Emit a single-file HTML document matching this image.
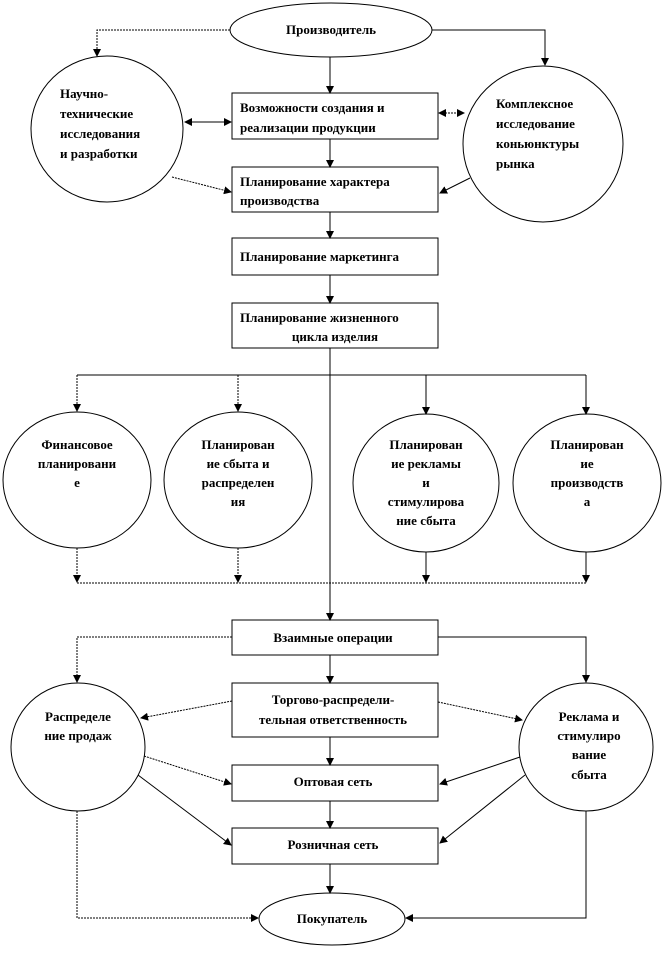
<!DOCTYPE html>
<html><head><meta charset="utf-8"><style>
html,body{margin:0;padding:0;background:#fff;}
svg text{font-family:"Liberation Serif",serif;font-weight:bold;font-size:13px;fill:#000;}
</style></head><body>
<svg width="663" height="949" viewBox="0 0 663 949" xmlns="http://www.w3.org/2000/svg">
<defs>
<marker id="a" markerWidth="8" markerHeight="8" refX="7" refY="4" orient="auto" markerUnits="userSpaceOnUse"><path d="M0,0 L8,4 L0,8 z" fill="#000"/></marker>
<marker id="b" markerWidth="8" markerHeight="8" refX="1" refY="4" orient="auto" markerUnits="userSpaceOnUse"><path d="M8,0 L0,4 L8,8 z" fill="#000"/></marker>
</defs>
<g stroke="#000" stroke-width="1" fill="none">
<!-- top -->
<ellipse cx="331" cy="30" rx="101" ry="27" fill="#fff"/>
<polyline points="230,30 97,30 97,56" stroke-dasharray="2,1" marker-end="url(#a)"/>
<polyline points="432,30 545,30 545,65" marker-end="url(#a)"/>
<ellipse cx="107" cy="129" rx="76" ry="73"/>
<ellipse cx="543" cy="144" rx="80" ry="78"/>
<line x1="330" y1="57" x2="330" y2="93" marker-end="url(#a)"/>
<rect x="232" y="93" width="206" height="46"/>
<line x1="185" y1="122" x2="231" y2="122" marker-start="url(#b)" marker-end="url(#a)"/>
<line x1="439" y1="113" x2="464" y2="113" stroke-dasharray="2,1" marker-start="url(#b)" marker-end="url(#a)"/>
<line x1="330" y1="139" x2="330" y2="167" marker-end="url(#a)"/>
<rect x="232" y="167" width="206" height="45"/>
<line x1="172" y1="177" x2="231" y2="192" stroke-dasharray="2,1" marker-end="url(#a)"/>
<line x1="470" y1="178" x2="440" y2="193" marker-end="url(#a)"/>
<line x1="330" y1="212" x2="330" y2="238" marker-end="url(#a)"/>
<rect x="232" y="238" width="206" height="37"/>
<line x1="330" y1="275" x2="330" y2="303" marker-end="url(#a)"/>
<rect x="232" y="303" width="206" height="45"/>
<!-- middle -->
<line x1="330" y1="348" x2="330" y2="620" marker-end="url(#a)"/>
<line x1="77" y1="375" x2="586" y2="375"/>
<line x1="77" y1="375" x2="77" y2="411" stroke-dasharray="2,1" marker-end="url(#a)"/>
<line x1="238" y1="375" x2="238" y2="411" stroke-dasharray="2,1" marker-end="url(#a)"/>
<line x1="426" y1="375" x2="426" y2="414" marker-end="url(#a)"/>
<line x1="586" y1="375" x2="586" y2="414" marker-end="url(#a)"/>
<ellipse cx="77" cy="480" rx="74" ry="68"/>
<ellipse cx="238" cy="480" rx="74" ry="68"/>
<ellipse cx="426" cy="483" rx="73" ry="69"/>
<ellipse cx="587" cy="483" rx="74" ry="69"/>
<line x1="77" y1="548" x2="77" y2="582" stroke-dasharray="2,1" marker-end="url(#a)"/>
<line x1="238" y1="548" x2="238" y2="582" stroke-dasharray="2,1" marker-end="url(#a)"/>
<line x1="426" y1="552" x2="426" y2="582" marker-end="url(#a)"/>
<line x1="586" y1="552" x2="586" y2="582" marker-end="url(#a)"/>
<line x1="77" y1="583" x2="586" y2="583" stroke-dasharray="2,1"/>
<rect x="232" y="620" width="206" height="35"/>
<polyline points="232,637 77,637 77,682" stroke-dasharray="2,1" marker-end="url(#a)"/>
<polyline points="438,637 586,637 586,682" marker-end="url(#a)"/>
<!-- bottom -->
<line x1="330" y1="655" x2="330" y2="683" marker-end="url(#a)"/>
<rect x="232" y="683" width="206" height="54"/>
<ellipse cx="78" cy="747" rx="67" ry="64"/>
<ellipse cx="586" cy="747" rx="67" ry="64"/>
<line x1="232" y1="701" x2="141" y2="718" stroke-dasharray="2,1" marker-end="url(#a)"/>
<line x1="438" y1="702" x2="522" y2="720" stroke-dasharray="2,1" marker-end="url(#a)"/>
<line x1="330" y1="737" x2="330" y2="765" marker-end="url(#a)"/>
<rect x="232" y="765" width="206" height="36"/>
<line x1="144" y1="756" x2="231" y2="784" stroke-dasharray="2,1" marker-end="url(#a)"/>
<line x1="520" y1="757" x2="440" y2="784" marker-end="url(#a)"/>
<line x1="330" y1="801" x2="330" y2="828" marker-end="url(#a)"/>
<rect x="232" y="828" width="206" height="36"/>
<line x1="138" y1="775" x2="231" y2="845" marker-end="url(#a)"/>
<line x1="525" y1="775" x2="440" y2="843" marker-end="url(#a)"/>
<line x1="330" y1="864" x2="330" y2="893" marker-end="url(#a)"/>
<ellipse cx="332" cy="919" rx="73" ry="26"/>
<polyline points="77,811 77,918 258,918" stroke-dasharray="2,1" marker-end="url(#a)"/>
<polyline points="586,811 586,918 406,918" marker-end="url(#a)"/>
</g>
<text x="331" y="34" text-anchor="middle">Производитель</text>
<text x="60" y="98">Научно-</text>
<text x="60" y="118">технические</text>
<text x="60" y="138">исследования</text>
<text x="60" y="158">и разработки</text>
<text x="496" y="108">Комплексное</text>
<text x="496" y="128">исследование</text>
<text x="496" y="148">коньюнктуры</text>
<text x="496" y="168">рынка</text>
<text x="240" y="112">Возможности создания и</text>
<text x="240" y="132">реализации продукции</text>
<text x="240" y="186">Планирование характера</text>
<text x="240" y="205">производства</text>
<text x="240" y="261">Планирование маркетинга</text>
<text x="240" y="322">Планирование жизненного</text>
<text x="335" y="341" text-anchor="middle">цикла изделия</text>
<g text-anchor="middle">
<text x="77" y="449">Финансовое</text>
<text x="77" y="468">планировани</text>
<text x="77" y="487">е</text>
<text x="238" y="449">Планирован</text>
<text x="238" y="468">ие сбыта и</text>
<text x="238" y="487">распределен</text>
<text x="238" y="506">ия</text>
<text x="426" y="449">Планирован</text>
<text x="426" y="468">ие рекламы</text>
<text x="426" y="487">и</text>
<text x="426" y="506">стимулирова</text>
<text x="426" y="525">ние сбыта</text>
<text x="587" y="449">Планирован</text>
<text x="587" y="468">ие</text>
<text x="587" y="487">производств</text>
<text x="587" y="506">а</text>
<text x="333" y="642">Взаимные операции</text>
<text x="333" y="704">Торгово-распредели-</text>
<text x="333" y="724">тельная ответственность</text>
<text x="333" y="786">Оптовая сеть</text>
<text x="333" y="849">Розничная сеть</text>
<text x="332" y="923">Покупатель</text>
<text x="78" y="721">Распределе</text>
<text x="78" y="740">ние продаж</text>
<text x="589" y="721">Реклама и</text>
<text x="589" y="740">стимулиро</text>
<text x="589" y="759">вание</text>
<text x="589" y="779">сбыта</text>
</g>
</svg>
</body></html>
